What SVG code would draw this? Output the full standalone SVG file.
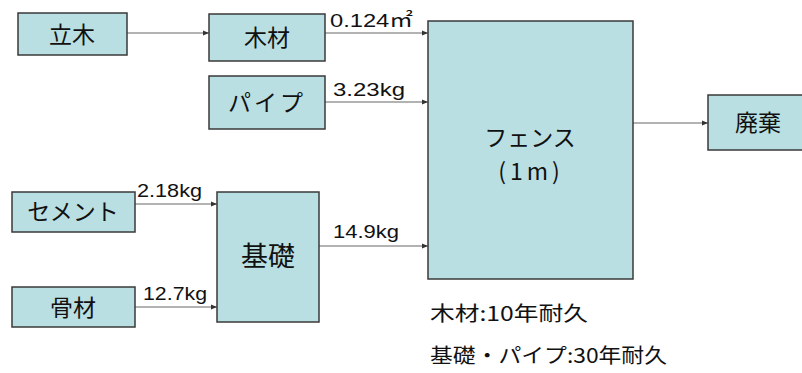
<svg xmlns="http://www.w3.org/2000/svg" width="802" height="373" viewBox="0 0 802 373">
<defs>
<marker id="ah" markerWidth="6" markerHeight="6" refX="6" refY="3" orient="auto" markerUnits="userSpaceOnUse">
<path d="M0,0.5 L6,3 L0,5.5 z" fill="#333"/>
</marker>
<style>
.box{fill:#b9dfe2;stroke:#3a3a3a;stroke-width:1.5}
.t{font-family:"Noto Sans CJK JP","Liberation Sans",sans-serif;fill:#111;text-anchor:middle}
.big{font-size:23px}
.lbl{font-family:"Liberation Sans","Noto Sans CJK JP",sans-serif;font-size:19px;fill:#111}
.note{font-family:"Noto Sans CJK JP",sans-serif;font-size:20px;fill:#111}
.c{stroke:#666;stroke-width:1;fill:none;marker-end:url(#ah)}
</style>
</defs>
<rect width="802" height="373" fill="#fff"/>
<g id="connectors">
<line class="c" x1="127" y1="33" x2="209" y2="33"/>
<line class="c" x1="325" y1="33" x2="428" y2="33"/>
<line class="c" x1="325" y1="102" x2="428" y2="102"/>
<line class="c" x1="135" y1="204" x2="217" y2="204"/>
<line class="c" x1="135" y1="307" x2="217" y2="307"/>
<line class="c" x1="319" y1="246" x2="428" y2="246"/>
<line class="c" x1="633" y1="123" x2="708" y2="123"/>
<text class="lbl" x="330" y="27" textLength="83" lengthAdjust="spacingAndGlyphs">0.124㎡</text>
<text class="lbl" x="333" y="96" textLength="72" lengthAdjust="spacingAndGlyphs">3.23kg</text>
<text class="lbl" x="137" y="197" textLength="65" lengthAdjust="spacingAndGlyphs">2.18kg</text>
<text class="lbl" x="143" y="300" textLength="64" lengthAdjust="spacingAndGlyphs">12.7kg</text>
<text class="lbl" x="333" y="238" textLength="66" lengthAdjust="spacingAndGlyphs">14.9kg</text>
</g>
<g id="n-tachiki"><rect class="box" x="18" y="13" width="109" height="42"/><text class="t big" x="72" y="43">立木</text></g>
<g id="n-mokuzai"><rect class="box" x="209" y="14" width="116" height="47"/><text class="t big" x="267" y="46">木材</text></g>
<g id="n-pipe"><rect class="box" x="209" y="76" width="116" height="53"/><text class="t big" x="267" y="111" letter-spacing="3">パイプ</text></g>
<g id="n-cement"><rect class="box" x="12" y="192" width="123" height="40"/><text class="t big" x="73" y="220">セメント</text></g>
<g id="n-kotsuzai"><rect class="box" x="12" y="287" width="123" height="40"/><text class="t big" x="73" y="316">骨材</text></g>
<g id="n-kiso"><rect class="box" x="217" y="192" width="102" height="130"/><text class="t" style="font-size:27px" x="268" y="266">基礎</text></g>
<g id="n-fence"><rect class="box" x="428" y="21" width="205" height="258"/><text class="t big" x="530" y="146">フェンス</text><text class="t big" x="531" y="180" letter-spacing="4">(1m)</text></g>
<g id="n-haiki"><rect class="box" x="708" y="95" width="100" height="55"/><text class="t big" x="758" y="131">廃棄</text></g>
<text class="note" x="430" y="321" textLength="158" lengthAdjust="spacingAndGlyphs">木材:10年耐久</text>
<text class="note" x="430" y="363" textLength="237" lengthAdjust="spacingAndGlyphs">基礎・パイプ:30年耐久</text>
</svg>
